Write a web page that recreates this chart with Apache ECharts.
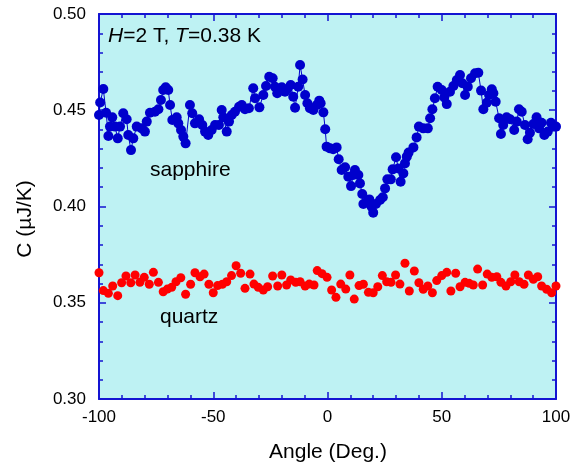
<!DOCTYPE html>
<html>
<head>
<meta charset="utf-8">
<script src="https://cdn.jsdelivr.net/npm/echarts@6/dist/echarts.min.js"></script>
<style>
  html, body { margin: 0; padding: 0; background: #fff; }
  #chart { width: 580px; height: 466px; }
</style>
</head>
<body>
<div id="chart"></div>
<script>
// Heat capacity vs. field angle, H = 2 T, T = 0.38 K
const sapphireAngle = [
  -100, -99.5, -98.1, -96.9, -95.9, -95.2, -94.2, -93, -91.8, -90.8,
  -89.4, -87.9, -87.2, -86, -85, -83.5, -81.3, -79.9, -79.1, -77.7,
  -75.5, -74, -72.9, -71.9, -70.8, -69.7, -68.9, -67.9, -66, -65.3,
  -64.1, -63.1, -62.1, -60.2, -59.2, -58, -56.2, -54.8, -53.6, -52.2,
  -50.7, -49.2, -47.5, -46.3, -45.6, -44.1, -43.1, -41.9, -40.5, -38.7,
  -37.5, -36.1, -34.4, -32.5, -31.7, -29.8, -28.1, -26.9, -25.5, -24,
  -23, -22, -20, -18.6, -17.6, -16.1, -15, -14.2, -12.8, -12,
  -10.9, -9.8, -8.8, -7.7, -6.2, -4.7, -3.6, -3, -1.8, -1,
  -0.4, 1.1, 2.5, 4, 4.9, 6.2, 7.7, 9.1, 10.3, 11.3,
  12, 13.5, 14.2, 15.2, 15.7, 17.2, 18.3, 19.3, 20, 21.2,
  23, 24.2, 25.2, 26.2, 27.7, 28.5, 30, 31, 32, 33.2,
  33.9, 34.7, 35.5, 37.6, 39, 40, 41.9, 43.9, 44.9, 45.9,
  47, 48.2, 50, 51.1, 52.2, 53.6, 55.1, 56.6, 58, 59,
  60.2, 61.4, 62.8, 64.6, 66, 67.2, 68.2, 69.7, 70.7, 71.9,
  72.6, 73.6, 75.1, 75.9, 76.9, 78.4, 79.9, 81.7, 82.8, 83.8,
  85, 86.4, 87.6, 88.6, 90.1, 91.5, 92.6, 93.7, 94.9, 96.4,
  97.8, 98.8, 100
];
const sapphireC = [
  0.4475, 0.454, 0.461, 0.4487, 0.4366, 0.4415, 0.4463, 0.4415, 0.4354, 0.4415,
  0.4484, 0.4453, 0.4371, 0.4293, 0.4354, 0.4415, 0.4406, 0.4389, 0.4441, 0.4487,
  0.4492, 0.4505, 0.4553, 0.4605, 0.4619, 0.4605, 0.4527, 0.4449, 0.4463, 0.4432,
  0.4397, 0.4363, 0.4328, 0.4527, 0.4484, 0.4432, 0.4453, 0.4423, 0.4389, 0.4371,
  0.4397, 0.4423, 0.4423, 0.4501, 0.4463, 0.4389, 0.4441, 0.4475, 0.4492, 0.4518,
  0.4527, 0.4505, 0.451, 0.4614, 0.4562, 0.4515, 0.4579, 0.4626, 0.4674, 0.4666,
  0.4622, 0.4588, 0.4619, 0.4596, 0.4609, 0.4631, 0.457, 0.4513, 0.4622, 0.4735,
  0.466, 0.4579, 0.4536, 0.451, 0.4501, 0.4527, 0.455, 0.4536, 0.4489, 0.4401,
  0.4311, 0.4302, 0.4297, 0.4307, 0.4245, 0.419, 0.4204, 0.4155, 0.4106, 0.4164,
  0.419, 0.4164, 0.412, 0.4065, 0.4013, 0.4025, 0.4037, 0.3999, 0.3968, 0.4013,
  0.4034, 0.4048, 0.4094, 0.4141, 0.4141, 0.4193, 0.4256, 0.4198, 0.4129, 0.4172,
  0.4224, 0.4259, 0.428, 0.4307, 0.4359, 0.4415, 0.4406, 0.4406, 0.4458, 0.4505,
  0.4562, 0.4622, 0.4605, 0.4567, 0.4532, 0.4596, 0.4626, 0.4657, 0.4683, 0.464,
  0.4579, 0.4622, 0.4666, 0.4692, 0.4695, 0.4602, 0.4505, 0.4539, 0.4579, 0.4609,
  0.4588, 0.4544, 0.4458, 0.4377, 0.4423, 0.4463, 0.4453, 0.4397, 0.4441, 0.4505,
  0.4492, 0.4423, 0.4349, 0.4383, 0.4429, 0.4463, 0.4406, 0.4435, 0.4371, 0.4389,
  0.4435, 0.4415, 0.4415
];
const quartzAngle = [
  -100, -98.1, -95.9, -94, -91.8, -90.1, -88.2, -86.1, -84.2, -82.1,
  -80.2, -78, -76.2, -74, -71.9, -70.1, -68.2, -66.3, -64.2, -62.1,
  -59.9, -58, -55.8, -54, -51.9, -50, -48.1, -46, -44.1, -42,
  -40, -38, -36.1, -33.9, -32.2, -30.3, -28.1, -26.2, -24, -21.8,
  -20, -17.9, -16.1, -13.9, -12, -9.8, -8, -5.9, -4.5, -2.4,
  -0.2, 1.8, 3.7, 5.8, 8, 9.8, 11.7, 13.8, 15.7, 17.9,
  20, 22, 24, 25.9, 27.8, 29.8, 31.7, 33.9, 35.8, 38,
  40, 41.9, 43.9, 45.9, 47.8, 50, 52.2, 54, 56.1, 58,
  60.2, 62, 63.8, 65.7, 67.9, 69.9, 71.9, 74.1, 75.9, 78.1,
  80.2, 82, 83.9, 86, 87.9, 90.1, 92, 93.7, 95.9, 98.1,
  100
];
const quartzC = [
  0.3656, 0.3563, 0.3549, 0.3587, 0.3537, 0.3604, 0.3639, 0.3604, 0.3644, 0.3606,
  0.3632, 0.3596, 0.3658, 0.3606, 0.3557, 0.3571, 0.358, 0.3609, 0.363, 0.3544,
  0.3596, 0.3656, 0.3635, 0.3649, 0.3596, 0.3552, 0.3589, 0.3596, 0.3609, 0.3641,
  0.3692, 0.3653, 0.3575, 0.3649, 0.3597, 0.358, 0.3566, 0.3583, 0.3639, 0.3587,
  0.3644, 0.3592, 0.3618, 0.3606, 0.3609, 0.3587, 0.3597, 0.3592, 0.3667, 0.3651,
  0.3632, 0.3566, 0.3528, 0.3597, 0.3571, 0.3644, 0.3519, 0.3589, 0.3596, 0.3554,
  0.3552, 0.3583, 0.3641, 0.3609, 0.3606, 0.3644, 0.3597, 0.3705, 0.3561, 0.3665,
  0.3604, 0.357, 0.3587, 0.3552, 0.3615, 0.3641, 0.3658, 0.3561, 0.3653, 0.3583,
  0.3606, 0.3601, 0.3592, 0.3675, 0.3592, 0.3649, 0.3632, 0.3635, 0.3606, 0.3587,
  0.3609, 0.3644, 0.3609, 0.3596, 0.3644, 0.3622, 0.3635, 0.3587, 0.357, 0.3552,
  0.3587
];

const FONT = '"Liberation Sans", Arial, sans-serif';
const AXIS_BLUE = '#1414d2';
const BLUE = '#0000cc';
const RED = '#ff0000';

function zip(xs, ys) { return xs.map((x, i) => [x, ys[i]]); }

function xAxisDef(pos, labels) {
  return {
    type: 'value', position: pos, min: -100, max: 100, interval: 50,
    axisLine: { show: true, onZero: false, lineStyle: { color: AXIS_BLUE, width: 2 } },
    axisTick: { show: true, inside: true, length: 7, lineStyle: { color: AXIS_BLUE, width: 1.5 } },
    minorTick: { show: true, splitNumber: 5, length: 4, lineStyle: { color: AXIS_BLUE, width: 1.5 } },
    splitLine: { show: false },
    axisLabel: { show: labels, margin: 10, color: '#000', fontSize: 17, fontFamily: FONT,
      formatter: v => String(Math.round(v)) }
  };
}
function yAxisDef(pos, labels) {
  return {
    type: 'value', position: pos, min: 0.3, max: 0.5, interval: 0.05,
    axisLine: { show: true, onZero: false, lineStyle: { color: AXIS_BLUE, width: 2 } },
    axisTick: { show: true, inside: true, length: 7, lineStyle: { color: AXIS_BLUE, width: 1.5 } },
    minorTick: { show: true, splitNumber: 5, length: 4, lineStyle: { color: AXIS_BLUE, width: 1.5 } },
    splitLine: { show: false },
    axisLabel: { show: labels, margin: 13, color: '#000', fontSize: 17, fontFamily: FONT,
      formatter: v => v.toFixed(2) }
  };
}

const chart = echarts.init(document.getElementById('chart'), null, { renderer: 'canvas' });
chart.setOption({
  animation: false,
  backgroundColor: '#ffffff',
  grid: { left: 99, right: 24, top: 14, bottom: 67, show: true,
    backgroundColor: '#bef2f3', borderWidth: 0 },
  xAxis: [xAxisDef('bottom', true), xAxisDef('top', false)],
  yAxis: [yAxisDef('left', true), yAxisDef('right', false)],
  title: {
    text: '{i|H}=2 T, {i|T}=0.38 K',
    left: 108, top: 26, padding: 0,
    textStyle: { fontSize: 21, fontWeight: 'normal', color: '#000', fontFamily: FONT,
      rich: { i: { fontStyle: 'italic', fontSize: 21, color: '#000', fontFamily: FONT } } }
  },
  graphic: [
    { type: 'text', left: 150, top: 160, silent: true,
      style: { text: 'sapphire', fontSize: 21, fill: '#000', font: '21px ' + FONT } },
    { type: 'text', left: 160, top: 307, silent: true,
      style: { text: 'quartz', fontSize: 21, fill: '#000', font: '21px ' + FONT } },
    { type: 'text', x: 328, y: 452, silent: true,
      style: { text: 'Angle (Deg.)', font: '21px ' + FONT, fill: '#000',
        align: 'center', verticalAlign: 'middle' } },
    { type: 'text', x: 25, y: 219, rotation: Math.PI / 2, silent: true,
      style: { text: 'C (\u00b5J/K)', font: '21px ' + FONT, fill: '#000',
        align: 'center', verticalAlign: 'middle' } }
  ],
  series: [
    {
      name: 'sapphire', type: 'line', data: zip(sapphireAngle, sapphireC),
      symbol: 'circle', symbolSize: 10, clip: false,
      lineStyle: { color: BLUE, width: 1 },
      itemStyle: { color: BLUE, opacity: 1 }
    },
    {
      name: 'quartz', type: 'scatter', data: zip(quartzAngle, quartzC),
      symbol: 'circle', symbolSize: 9, clip: false,
      itemStyle: { color: RED, opacity: 1 }
    }
  ]
});
</script>
</body>
</html>
